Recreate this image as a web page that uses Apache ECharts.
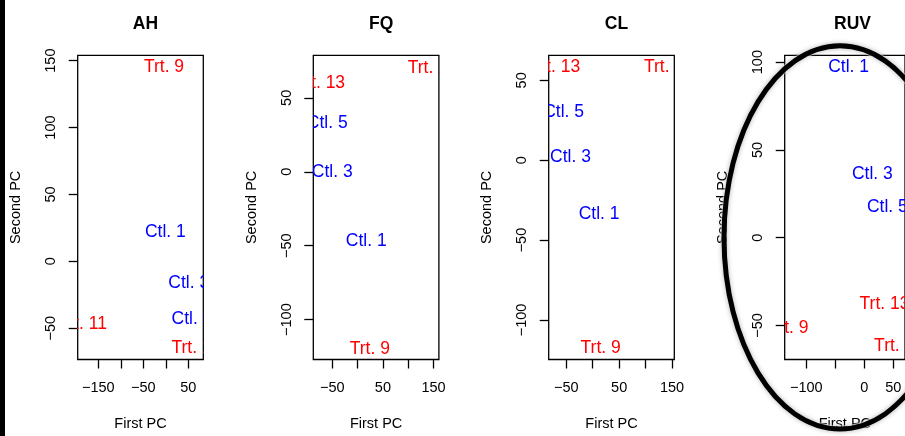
<!DOCTYPE html>
<html>
<head>
<meta charset="utf-8">
<script src="https://cdn.jsdelivr.net/npm/echarts@6/dist/echarts.min.js"></script>
<style>html,body{margin:0;padding:0;background:#fff}#c{width:905px;height:436px}</style>
</head>
<body>
<div id="c"></div>
<script>
// Panel titles
const panelTitles = ['AH', 'FQ', 'CL', 'RUV'];

// AH
const ahLabels = ['Trt. 9', 'Ctl. 1', 'Ctl. 3', 'Ctl. 5', 'Trt. 11', 'Trt. 13'];
const ahX = [-4, -1, 51, 58, -185, 68];
const ahY = [145, 22, -16, -43, -47, -65];
// FQ
const fqLabels = ['Trt. 11', 'Trt. 13', 'Ctl. 5', 'Ctl. 3', 'Ctl. 1', 'Trt. 9'];
const fqX = [147, -74, -60, -50, 17, 24];
const fqY = [70, 60, 33, 0, -47, -120];
// CL
const clLabels = ['Trt. 13', 'Trt. 11', 'Ctl. 5', 'Ctl. 3', 'Ctl. 1', 'Trt. 9'];
const clX = [-71, 143, -55, -42, 12, 15];
const clY = [58, 58, 30, 2, -34, -118];
// RUV
const ruvLabels = ['Ctl. 1', 'Ctl. 3', 'Ctl. 5', 'Trt. 13', 'Trt. 9', 'Trt. 11'];
const ruvX = [-27, 14, 40, 35, -131, 59];
const ruvY = [97, 36, 17.5, -38, -51.5, -62];

// Axis ranges and ticks
const xRanges = [[-195.8, 83.3], [-87.5, 160.5], [-83.3, 154.4], [-137.4, 70.4]];
const yRanges = [[-73.4, 154], [-127, 78.8], [-124.8, 65.7], [-69.4, 103.9]];
const xTicks = [[-150, -100, -50, 0, 50], [-50, 0, 50, 100, 150], [-50, 0, 50, 100, 150], [-100, -50, 0, 50]];
const xTickLabels = [[-150, -50, 50], [-50, 50, 150], [-50, 50, 150], [-100, 0, 50]];
const yTicks = [[-50, 0, 50, 100, 150], [-100, -50, 0, 50], [-100, -50, 0, 50], [-50, 0, 50, 100]];

const panels = [
  [ahX, ahY, ahLabels], [fqX, fqY, fqLabels], [clX, clY, clLabels], [ruvX, ruvY, ruvLabels]
];

const FONT = 'Liberation Sans, Arial, Helvetica, sans-serif';
const gridLefts = [77.7, 313.3, 548.7, 784.7];
const gridTop = 55.3, gridW = 125.6, gridH = 307.4;

const fmt = v => (v < 0 ? '\u2212' + Math.abs(v) : String(v));

const grids = [], xAxes = [], yAxes = [], series = [], titles = [];
panels.forEach((p, i) => {
  grids.push({left: gridLefts[i], top: gridTop, width: gridW, height: gridH,
    show: true, borderColor: '#000', borderWidth: 1.3, backgroundColor: 'transparent'});
  titles.push({text: panelTitles[i], left: gridLefts[i] + gridW / 2, top: 10, textAlign: 'center',
    textStyle: {fontFamily: FONT, fontWeight: 'bold', fontSize: 17.5, color: '#000'}});
  xAxes.push({type: 'value', gridIndex: i, min: xRanges[i][0], max: xRanges[i][1],
    position: 'bottom',
    name: 'First PC', nameLocation: 'middle', nameGap: 56.5,
    nameTextStyle: {fontFamily: FONT, fontSize: 14.5, color: '#000'},
    axisLine: {show: false, onZero: false}, splitLine: {show: false},
    axisTick: {show: true, inside: false, length: 9, lineStyle: {color: '#000', width: 1.3}, customValues: xTicks[i]},
    axisLabel: {customValues: xTickLabels[i], formatter: fmt, margin: 21,
      fontFamily: FONT, fontSize: 14.5, color: '#000'}});
  yAxes.push({type: 'value', gridIndex: i, min: yRanges[i][0], max: yRanges[i][1],
    position: 'left',
    name: 'Second PC', nameLocation: 'middle', nameGap: 54,
    nameTextStyle: {fontFamily: FONT, fontSize: 14.5, color: '#000'},
    axisLine: {show: false, onZero: false}, splitLine: {show: false},
    axisTick: {show: true, inside: false, length: 9, lineStyle: {color: '#000', width: 1.3}, customValues: yTicks[i]},
    axisLabel: {customValues: yTicks[i], formatter: fmt, rotate: 90, margin: 19,
      fontFamily: FONT, fontSize: 14.5, color: '#000'}});
  const xs = p[0], ys = p[1], labs = p[2];
  series.push({type: 'custom', xAxisIndex: i, yAxisIndex: i, clip: true,
    data: xs.map((x, k) => [x, ys[k]]),
    renderItem: (params, api) => {
      const pt = api.coord([api.value(0), api.value(1)]);
      const lab = labs[params.dataIndex];
      return {type: 'text', x: pt[0], y: pt[1], style: {
        text: lab, fill: lab.indexOf('Ctl') === 0 ? '#0000FF' : '#FF0000',
        font: '17.5px ' + FONT, align: 'center', verticalAlign: 'middle'}};
    }});
});

const chart = echarts.init(document.getElementById('c'), null, {renderer: 'canvas'});
chart.setOption({
  animation: false,
  backgroundColor: '#fff',
  title: titles,
  grid: grids, xAxis: xAxes, yAxis: yAxes, series: series,
  graphic: [
    {type: 'rect', shape: {x: 0, y: 0, width: 5, height: 436}, style: {fill: '#000'}, z: 100},
    {type: 'ellipse', shape: {cx: 840, cy: 237.4, rx: 116, ry: 191.6},
      style: {fill: 'none', stroke: 'rgba(255,255,255,0.5)', lineWidth: 7, shadowBlur: 3, shadowColor: 'rgba(255,255,255,0.5)'}, z: 100},
    {type: 'ellipse', shape: {cx: 840, cy: 237.4, rx: 116, ry: 191.6},
      style: {fill: 'none', stroke: '#000', lineWidth: 5, shadowBlur: 5, shadowColor: 'rgba(0,0,0,0.3)'}, z: 101}
  ]
});
</script>
</body>
</html>
